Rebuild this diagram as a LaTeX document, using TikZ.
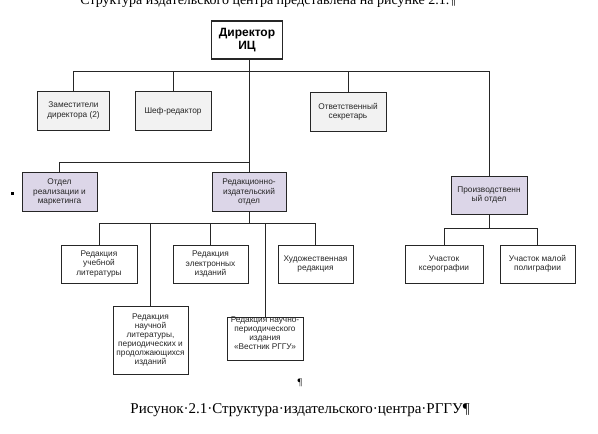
\documentclass[tikz,border=0pt]{standalone}
\usepackage{fontspec}
\setmainfont{Liberation Serif}
\newfontfamily\arialf{Liberation Sans}
\usetikzlibrary{positioning}
\definecolor{lavender}{HTML}{DCD6E8}
\definecolor{palegray}{HTML}{F2F2F2}

\begin{document}
\begin{tikzpicture}[x=1pt,y=-1pt,
    box/.style={draw=black!85,line width=0.7pt,align=center,inner sep=1pt,
        font=\arialf\fontsize{8.3}{9.1}\selectfont,text=black!85,
        minimum width=75pt,minimum height=39pt},
    dept/.style={box,fill=lavender},
    aide/.style={box,fill=palegray},
    wire/.style={line width=0.8pt,black!85}]
    \useasboundingbox (0,0) rectangle (598,434);
    \clip (0,0) rectangle (598,434);
    % head of the page, cut off
    \node[anchor=base,font=\fontsize{14}{16}\selectfont] (head) at (268,4)
        {Структура издательского центра представлена на рисунке 2.1.¶};
    % boxes
    \node[box,line width=1.1pt,fill=white,minimum width=71pt,minimum height=38pt,
        font=\arialf\bfseries\fontsize{12}{13.5}\selectfont,text=black]
        (dir) at (247,40) {Директор\\ИЦ};
    \node[aide,minimum width=72pt] (zam) at (73.5,110.5) {Заместители\\директора (2)};
    \node[aide,minimum width=76pt] (shef) at (173,111) {Шеф-редактор};
    \node[aide,minimum width=76pt] (otv) at (348,111.5) {Ответственный\\секретарь};
    \node[dept] (real) at (59.5,192) {Отдел\\реализации и\\маркетинга};
    \node[dept,minimum width=74pt] (red) at (249,192) {Редакционно-\\издательский\\отдел};
    \node[dept,minimum width=76pt,minimum height=38pt] (proizv) at (489,195) {Производственн\\ый отдел};
    \node[box,minimum width=76pt,minimum height=38pt] (ucheb) at (99,264) {Редакция\\учебной\\литературы};
    \node[box,minimum height=38pt] (elektr) at (210.5,264) {Редакция\\электронных\\изданий};
    \node[box,minimum height=38pt] (hud) at (315.5,264) {Художественная\\редакция};
    \node[box,minimum width=78pt,minimum height=38pt] (kser) at (444,264) {Участок\\ксерографии};
    \node[box,minimum height=38pt] (malo) at (537.5,264) {Участок малой\\полиграфии};
    \node[box,minimum height=68pt] (nauch) at (150.5,340)
        {Редакция\\научной\\литературы,\\периодических и\\продолжающихся\\изданий};
    \node[box,minimum width=76pt,minimum height=43pt] (per) at (265,338.5) {};
    \node[align=center,inner sep=0pt,font=\arialf\fontsize{8.3}{9.1}\selectfont,text=black!85]
        (pertext) at (265,333) {Редакция научно-\\периодического\\издания\\«Вестник РГГУ»};
    % bus levels
    \coordinate (bus1) at (0,71);
    \coordinate (bus2) at (0,162);
    \coordinate (bus3) at (0,223);
    \coordinate (bus4) at (0,228);
    % connectors
    \draw[wire,line width=1pt] (red.north |- dir.south) -- (red.north);
    \draw[wire] (zam.north) -- (zam.north |- bus1) -- (proizv.north |- bus1) -- (proizv.north);
    \draw[wire] (shef.north) -- (shef.north |- bus1);
    \draw[wire] (otv.north) -- (otv.north |- bus1);
    \draw[wire] (real.north) -- (real.north |- bus2) -- (red.north |- bus2);
    \draw[wire] (red.south) -- (red.south |- bus3);
    \draw[wire] (ucheb.north) |- (hud.north |- bus3) -- (hud.north);
    \foreach \n in {nauch,elektr,per}
        \draw[wire] (\n.north) -- (\n.north |- bus3);
    \draw[wire] (proizv.south) -- (proizv.south |- bus4);
    \draw[wire] (kser.north) |- (malo.north |- bus4) -- (malo.north);
    % bullet mark
    \fill (10.5,191.5) rectangle (13.5,194.5);
    % caption
    \node[font=\fontsize{10}{12}\selectfont] (pil) at (300,383) {¶};
    \node[font=\fontsize{15}{18}\selectfont] (cap) at (300,410)
        {Рисунок·2.1·Структура·издательского·центра·РГГУ¶};
\end{tikzpicture}
\end{document}
